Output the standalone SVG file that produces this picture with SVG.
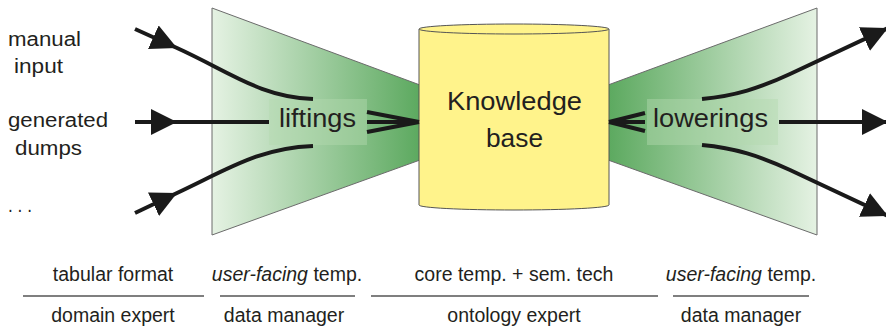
<svg xmlns="http://www.w3.org/2000/svg" width="886" height="328" viewBox="0 0 886 328">
  <defs>
    <linearGradient id="fadeRight" x1="0" y1="0" x2="1" y2="0">
      <stop offset="0" stop-color="#e5f2e3"/>
      <stop offset="1" stop-color="#5ca95f"/>
    </linearGradient>
    <linearGradient id="fadeLeft" x1="0" y1="0" x2="1" y2="0">
      <stop offset="0" stop-color="#5ca95f"/>
      <stop offset="1" stop-color="#e5f2e3"/>
    </linearGradient>
    <marker id="head" viewBox="0 0 10 10" refX="10" refY="5" markerUnits="userSpaceOnUse" markerWidth="26" markerHeight="26" orient="auto">
      <path d="M0,0 L10,5 L0,10 z" fill="#1a1a1a"/>
    </marker>
    <style>
      .txt { font-family: "Liberation Sans", Arial, sans-serif; fill: #231f20; }
      .side { font-size: 20px; }
      .big { font-size: 25px; }
      .cap { font-size: 19.5px; text-anchor: middle; }
      .flow { fill: none; stroke: #1a1a1a; stroke-width: 4; }
      .fan { fill: none; stroke: #1a1a1a; stroke-width: 4; }
      .funnel { stroke: #6b6b6b; stroke-width: 1; }
      .lbox { fill: #b3d9b0; fill-opacity: 0.45; }
      .rule { stroke: #555; stroke-width: 1.3; }
    </style>
  </defs>

  <!-- source labels -->
  <g id="sources">
    <text class="txt side" x="8" y="46" textLength="73" lengthAdjust="spacingAndGlyphs">manual</text>
    <text class="txt side" x="14" y="73" textLength="49" lengthAdjust="spacingAndGlyphs">input</text>
    <text class="txt side" x="8" y="127" textLength="100" lengthAdjust="spacingAndGlyphs">generated</text>
    <text class="txt side" x="15" y="155" textLength="67" lengthAdjust="spacingAndGlyphs">dumps</text>
    <text class="txt side" x="8" y="212" textLength="24" lengthAdjust="spacingAndGlyphs">. . .</text>
  </g>

  <!-- lifting funnel -->
  <g id="liftings">
    <polygon class="funnel" points="212,8 420,85 420,160 212,235" fill="url(#fadeRight)"/>
    <rect class="lbox" x="269" y="99" width="98" height="46"/>
    <text class="txt big" x="279" y="127" textLength="77" lengthAdjust="spacingAndGlyphs">liftings</text>
  </g>

  <!-- lowering funnel -->
  <g id="lowerings">
    <polygon class="funnel" points="608,85 817,8 817,235 608,160" fill="url(#fadeLeft)"/>
    <rect class="lbox" x="647" y="99" width="131" height="46"/>
    <text class="txt big" x="653" y="127" textLength="115" lengthAdjust="spacingAndGlyphs">lowerings</text>
  </g>

  <!-- knowledge base cylinder -->
  <g id="knowledge-base">
    <path d="M419,29 L419,205 A95,5 0 0 0 609,205 L609,29" fill="#fff38b" stroke="#555" stroke-width="1"/>
    <ellipse cx="514" cy="29" rx="95" ry="5" fill="#fff38b" stroke="#555" stroke-width="1"/>
    <text class="txt big" x="447" y="110" textLength="135" lengthAdjust="spacingAndGlyphs">Knowledge</text>
    <text class="txt big" x="486" y="147" textLength="57" lengthAdjust="spacingAndGlyphs">base</text>
  </g>

  <!-- connectors -->
  <g id="connectors">
    <path class="flow" d="M135,29 L177,48 C230,72 260,97 313,99" marker-mid="url(#head)"/>
    <path class="flow" d="M135,122 L177,122 L269,122" marker-mid="url(#head)"/>
    <path class="flow" d="M135,213 L177,193 C230,168 260,148 313,146" marker-mid="url(#head)"/>

    <path class="fan" d="M367,112 L419,122 M367,122 L419,122 M367,132 L419,122"/>
    <path class="fan" d="M609,122 L645,113 M609,122 L645,122 M609,122 L645,131"/>

    <path class="flow" d="M702,99 C735,96 760,88 790,74 L888,28" marker-end="url(#head)"/>
    <path class="flow" d="M779,122 L888,122" marker-end="url(#head)"/>
    <path class="flow" d="M702,145 C735,148 760,156 790,170 L888,216" marker-end="url(#head)"/>
  </g>

  <!-- formats and roles -->
  <g id="roles">
    <text class="txt cap" x="113" y="281">tabular format</text>
    <text class="txt cap" x="287" y="281"><tspan font-style="italic">user-facing</tspan> temp.</text>
    <text class="txt cap" x="514" y="281">core temp. + sem. tech</text>
    <text class="txt cap" x="741" y="281"><tspan font-style="italic">user-facing</tspan> temp.</text>

    <line class="rule" x1="23" y1="296" x2="204" y2="296"/>
    <line class="rule" x1="220" y1="296" x2="355" y2="296"/>
    <line class="rule" x1="371" y1="296" x2="658" y2="296"/>
    <line class="rule" x1="673" y1="296" x2="809" y2="296"/>

    <text class="txt cap" x="113" y="322">domain expert</text>
    <text class="txt cap" x="284" y="322">data manager</text>
    <text class="txt cap" x="514" y="322">ontology expert</text>
    <text class="txt cap" x="741" y="322">data manager</text>
  </g>
</svg>
